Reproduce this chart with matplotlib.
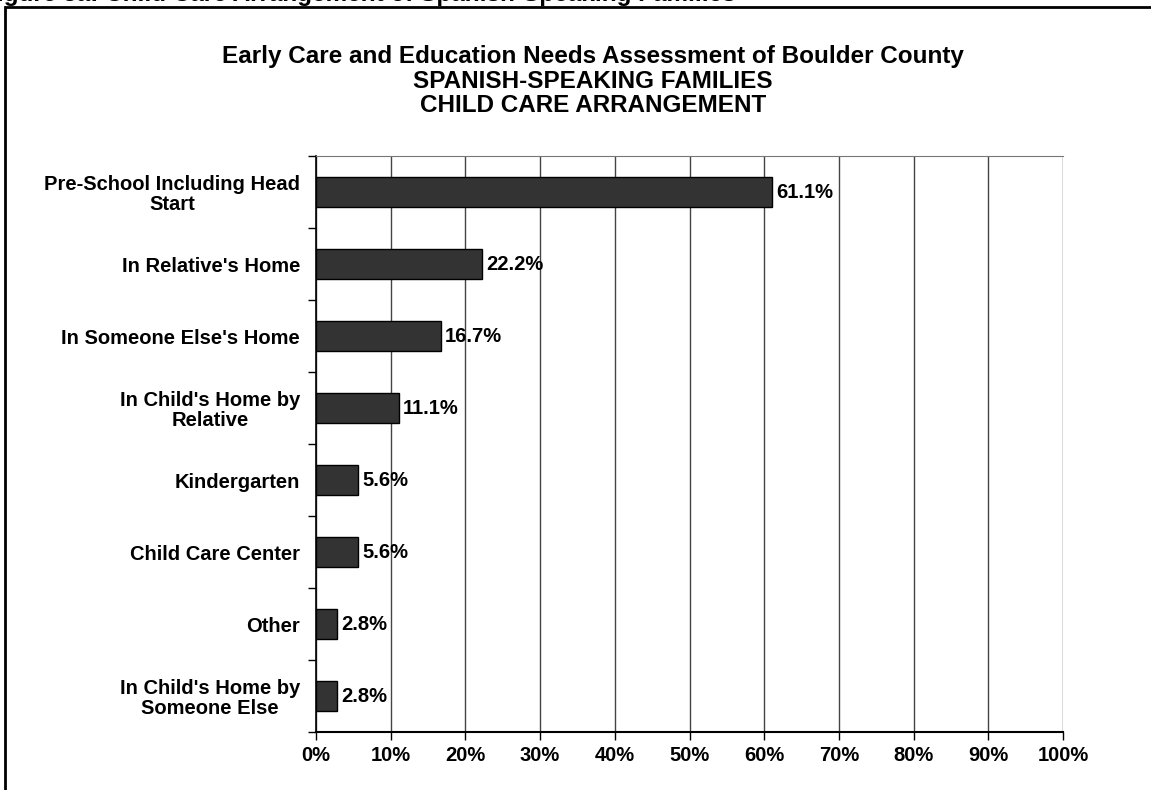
import matplotlib
matplotlib.use("Agg")
import matplotlib.pyplot as plt
from matplotlib.patches import Rectangle
from matplotlib.ticker import FixedLocator, NullFormatter
import matplotlib.font_manager as fm

categories = ["Pre-School Including Head\nStart", "In Relative's Home", "In Someone Else's Home",
              "In Child's Home by\nRelative", "Kindergarten", "Child Care Center", "Other",
              "In Child's Home by\nSomeone Else"]
values = [61.1, 22.2, 16.7, 11.1, 5.6, 5.6, 2.8, 2.8]
value_labels = ["61.1%", "22.2%", "16.7%", "11.1%", "5.6%", "5.6%", "2.8%", "2.8%"]
xticks = [0, 10, 20, 30, 40, 50, 60, 70, 80, 90, 100]
xtick_labels = ["0%", "10%", "20%", "30%", "40%", "50%", "60%", "70%", "80%", "90%", "100%"]
title_lines = ["Early Care and Education Needs Assessment of Boulder County",
               "SPANISH-SPEAKING FAMILIES",
               "CHILD CARE ARRANGEMENT"]
caption = "Figure 3a: Child Care Arrangement of Spanish-Speaking Families"

names = {f.name for f in fm.fontManager.ttflist}
base = "Liberation Sans" if "Liberation Sans" in names else "DejaVu Sans"
plt.rcParams['font.family'] = [base, 'DejaVu Sans']

W, H = 1151, 790
fig = plt.figure(figsize=(W/100, H/100), dpi=100)
ax = fig.add_axes([316/W, 1-732/H, (1063-316)/W, (732-156)/H])

n = len(categories)
ypos = list(range(n))
ax.barh(ypos, values, height=0.43, color="#333333", edgecolor="black", linewidth=1, zorder=3)
ax.set_ylim(n-0.5, -0.5)
ax.set_xlim(0, 100)

ax.xaxis.set_major_locator(FixedLocator(xticks))
ax.set_xticklabels(xtick_labels, fontsize=14.5, fontweight="bold")
ax.tick_params(axis="x", direction="out", length=6, width=1, pad=4, color="black")
ax.grid(axis="x", color="#444444", linewidth=1, zorder=0)

ax.yaxis.set_major_locator(FixedLocator([i - 0.5 for i in range(n+1)]))
ax.yaxis.set_major_formatter(NullFormatter())
ax.yaxis.set_minor_locator(FixedLocator(ypos))
ax.set_yticklabels(categories, minor=True, fontsize=14.5, fontweight="bold")
ax.tick_params(axis="y", which="major", direction="out", length=6, width=1, color="black")
ax.tick_params(axis="y", which="minor", length=0, pad=11.5)
for lbl in ax.get_yticklabels(minor=True):
    lbl.set_multialignment("center")
    lbl.set_linespacing(1.08)

ax.spines["right"].set_visible(False)
ax.spines["top"].set_color("#777777")
ax.spines["left"].set_linewidth(1.2)
ax.spines["bottom"].set_linewidth(1.5)

for y, v, t in zip(ypos, values, value_labels):
    ax.annotate(t, (v, y), xytext=(3, 0), textcoords="offset points",
                va="center", ha="left", fontsize=14.5, fontweight="bold", zorder=4)

for yy, line in zip([57, 81, 105], title_lines):
    fig.text(593/W, 1-yy/H, line, ha="center", va="center", fontsize=17.5, fontweight="bold")

# outer frame
fig.patches.append(Rectangle((5/W, -0.1), 1.2, 1+0.1-7/H, transform=fig.transFigure,
                             fill=False, edgecolor="black", linewidth=2))
fig.text(-18/W, 1-0.5/H, caption, ha="left", va="baseline", fontsize=17.5, fontweight="bold")

fig.savefig("out.png", dpi=100)
